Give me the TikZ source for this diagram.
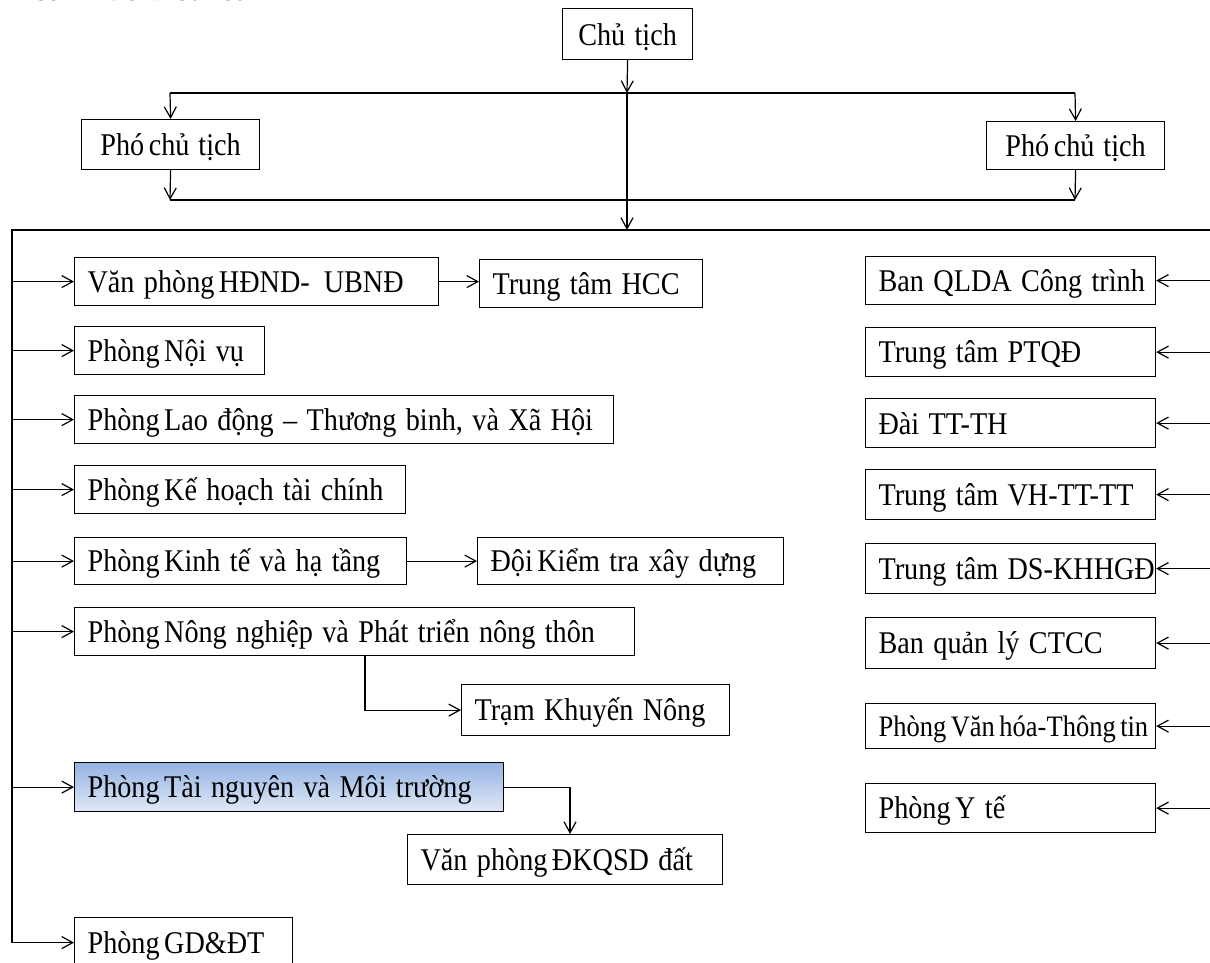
\documentclass[tikz,border=0pt]{standalone}
\usepackage{fontspec}
\setmainfont{Liberation Serif}
\usetikzlibrary{arrows.meta}
\definecolor{tnTop}{RGB}{149,179,226}
\definecolor{tnBot}{RGB}{224,233,247}
\newcommand{\myst}{\rule[-6pt]{0pt}{34pt}}
\newcommand{\ns}{\hspace{4.5pt}}
\tikzset{
  box/.style={draw=black, line width=1.2pt, anchor=north west, inner xsep=13pt, inner ysep=0pt,
    align=left, font=\fontsize{28.2}{34}\selectfont},
  conn/.style={line width=1.2pt},
  arr/.style={conn, -{Straight Barb[length=11pt,width=12pt,line width=1.2pt]}},
  ttl/.style={anchor=base west, inner sep=0pt, font=\bfseries\fontsize{30}{34}\selectfont},
  tn/.style={top color=tnTop, bottom color=tnBot},
  small/.style={font=\fontsize{26.5}{34}\selectfont}
}
% #1 extra style, #2 name, #3 x1, #4 y1, #5 x2, #6 y2, #7 text
\newcommand{\bx}[7][]{%
  \pgfmathsetmacro{\myBW}{#5-#3}\pgfmathsetmacro{\myBH}{#6-#4}\pgfmathsetmacro{\myTW}{#5-#3-26}%
  \node[box,#1,minimum width=\myBW pt, minimum height=\myBH pt, text width=\myTW pt] (#2) at (#3,#4) {\mbox{\myst\scalebox{1}[1.12]{#7}}};}
\begin{document}
\begin{tikzpicture}[x=1pt,y=-1pt]
\useasboundingbox (0,0) rectangle (1210,963);
\node[ttl] (title) at (10,0.5) {Hoanh Bo District};

% top
\bx[align=center]{chu}{562}{8}{692}{59}{Chủ tịch}
\bx[align=center]{pcl}{81}{119}{259}{169}{Phó\ns chủ\hspace{9pt}tịch}
\bx[align=center]{pcr}{986}{121}{1164}{169}{Phó\ns chủ\hspace{9pt}tịch}

% left column
\bx{vp}{74}{257}{438}{305}{Văn phòng\ns HĐND-\hspace{14pt}UBNĐ}
\bx{hcc}{479}{259}{702}{307}{Trung tâm HCC}
\bx{nv}{74}{326}{264}{374}{Phòng\ns Nội vụ}
\bx{ld}{74}{395}{613}{443}{Phòng\ns Lao động – Thương binh, và Xã Hội}
\bx{kh}{74}{465}{405}{513}{Phòng\ns Kế hoạch tài chính}
\bx{kt}{74}{537}{406}{584}{Phòng\ns Kinh tế và hạ tầng}
\bx{dkt}{477}{537}{783}{584}{Đội\ns Kiểm tra xây dựng}
\bx{nn}{74}{607}{634}{655}{Phòng\ns Nông nghiệp và Phát triển nông thôn}
\bx{tkn}{461}{684}{729}{735}{Trạm Khuyến Nông}
\bx[tn]{tnmt}{74}{762}{503}{811}{Phòng\ns Tài nguyên và Môi trường}
\bx{dk}{407}{834}{722}{884}{Văn phòng\ns ĐKQSD đất}
\bx{gd}{74}{917}{292}{967}{Phòng\ns GD\&ĐT}

% right column
\bx{r1}{865}{256}{1155}{304}{Ban QLDA Công trình}
\bx{r2}{865}{327}{1155}{376}{Trung tâm PTQĐ}
\bx{r3}{865}{398}{1155}{447}{Đài TT-TH}
\bx{r4}{865}{469}{1155}{519}{Trung tâm VH-TT-TT}
\bx{r5}{865}{543}{1155}{593}{Trung tâm DS-KHHGĐ}
\bx{r6}{865}{617}{1155}{668}{Ban quản lý CTCC}
\bx[small]{r7}{865}{703}{1155}{748}{Phòng\ns Văn\ns hóa-Thông\ns tin}
\bx{r8}{865}{783}{1155}{832}{Phòng\ns Y tế}

% coordinates
\coordinate (m1) at (627,93);
\coordinate (t1) at (170,93);
\coordinate (t2) at (1075,93);
\coordinate (b1) at (170,200);
\coordinate (b2) at (1075,200);
\coordinate (f0) at (627,230);
\coordinate (fl) at (12,230);
\coordinate (fr) at (1210,230);
\coordinate (fb) at (gd.west -| fl);
\coordinate (nnv) at (365,655);
\coordinate (tnx) at (570,786);

% top connectors
\draw[arr] (chu.south) -- (m1);
\draw[conn] (t1) -- (t2);
\draw[arr] (t1) -- (pcl.north);
\draw[arr] (t2) -- (pcr.north);
\draw[arr] (pcl.south) -- (b1);
\draw[arr] (pcr.south) -- (b2);
\draw[conn] (b1) -- (b2);
\draw[arr] (m1) -- (f0);
\draw[conn] (fr) -- (fl) -- (fb);

% left branches
\foreach \n in {vp,nv,ld,kh,kt,nn,tnmt,gd}{\draw[arr] (\n.west -| fl) -- (\n.west);}
\draw[arr] (vp.east) -- (vp.east -| hcc.west);
\draw[arr] (kt.east) -- (dkt.west);
\draw[arr] (nnv) |- (tkn.west);
\draw[arr] (tnmt.east) -| (tnx |- dk.north);

% right branches
\foreach \n in {r1,r2,r3,r4,r5,r6,r7,r8}{\draw[arr] (\n.east -| fr) -- (\n.east);}
\end{tikzpicture}
\end{document}
